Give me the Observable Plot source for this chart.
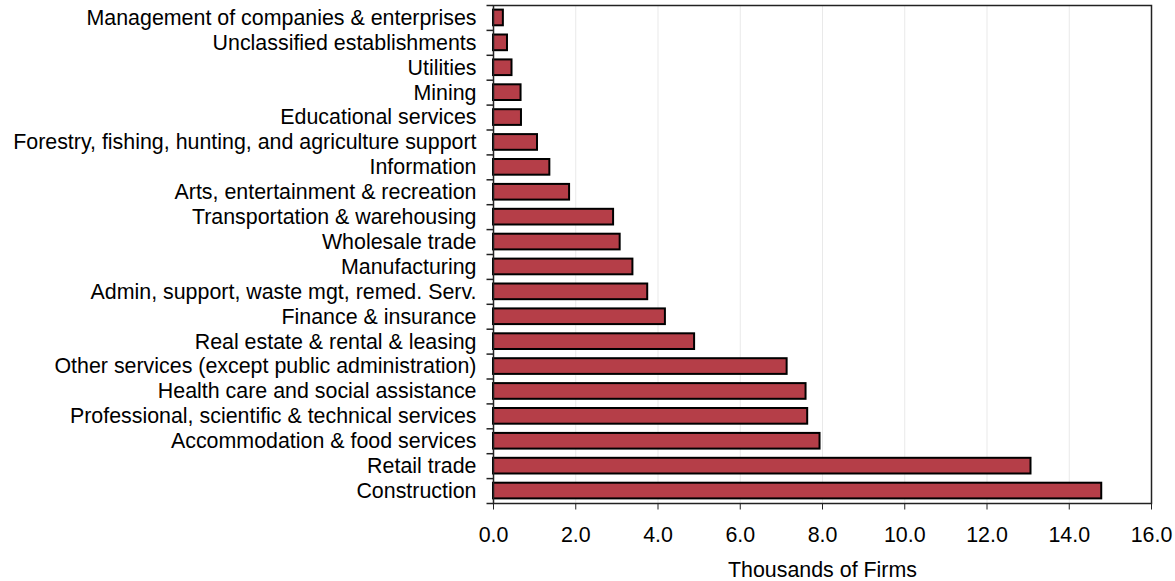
<!DOCTYPE html>
<html>
<head>
<meta charset="utf-8">
<script src="https://cdn.jsdelivr.net/npm/d3@7"></script>
<script src="https://cdn.jsdelivr.net/npm/@observablehq/plot@0.6"></script>
<style>
  html, body { margin: 0; padding: 0; background: #fff; }
  #chart svg { display: block; }
</style>
</head>
<body>
<div id="chart"></div>
<script>
const industries = [
  "Management of companies & enterprises",
  "Unclassified establishments",
  "Utilities",
  "Mining",
  "Educational services",
  "Forestry, fishing, hunting, and agriculture support",
  "Information",
  "Arts, entertainment & recreation",
  "Transportation & warehousing",
  "Wholesale trade",
  "Manufacturing",
  "Admin, support, waste mgt, remed. Serv.",
  "Finance & insurance",
  "Real estate & rental & leasing",
  "Other services (except public administration)",
  "Health care and social assistance",
  "Professional, scientific & technical services",
  "Accommodation & food services",
  "Retail trade",
  "Construction"
];
const firms = [0.24, 0.34, 0.45, 0.67, 0.68, 1.07, 1.37, 1.85, 2.92, 3.08, 3.39, 3.75, 4.18, 4.89, 7.14, 7.6, 7.64, 7.94, 13.07, 14.79];
const xTicks = [0, 2, 4, 6, 8, 10, 12, 14, 16];

const data = industries.map((name, i) => ({name, value: firms[i]}));

const W = 1175, H = 581;
const mTop = 5, mBottom = 78, mLeft = 493, mRight = 24;
const step = (H - mTop - mBottom) / industries.length;
const tickLenUnits = 6.5 * 16 / (W - mLeft - mRight);
const FS = 21.4;

const plot = Plot.plot({
  width: W,
  height: H,
  marginTop: mTop,
  marginBottom: mBottom,
  marginLeft: mLeft,
  marginRight: mRight,
  style: {fontFamily: "'Liberation Sans', Arial, sans-serif", fontSize: FS + "px", color: "#000", background: "#fff"},
  x: {domain: [0, 16], ticks: xTicks, label: null},
  y: {domain: industries, paddingInner: 0.37, paddingOuter: 0.185, round: false, label: null},
  marks: [
    Plot.gridX(xTicks, {stroke: "#e9e9e9", strokeOpacity: 1, strokeWidth: 1}),
    Plot.barX(data, {y: "name", x: "value", fill: "#b53e48", stroke: "#000", strokeWidth: 2}),
    Plot.frame({stroke: "#222", strokeWidth: 1.5}),
    Plot.axisY({tickSize: 0, tickPadding: 17, fontSize: FS, fill: "#000"}),
    Plot.ruleY(industries, {y: d => d, x1: -tickLenUnits, x2: 0, dy: -step / 2, stroke: "#222", strokeWidth: 1.5, clip: false}),
    Plot.ruleY([industries[industries.length - 1]], {y: d => d, x1: -tickLenUnits, x2: 0, dy: step / 2, stroke: "#222", strokeWidth: 1.5, clip: false}),
    Plot.axisX({ticks: xTicks, tickFormat: d => d.toFixed(1), tickSize: 6.5, tickPadding: 16.5, fontSize: FS, fill: "#000", stroke: "#222", label: "Thousands of Firms", labelAnchor: "center", labelArrow: "none", labelOffset: 73})
  ]
});
document.getElementById("chart").appendChild(plot);
</script>
</body>
</html>
